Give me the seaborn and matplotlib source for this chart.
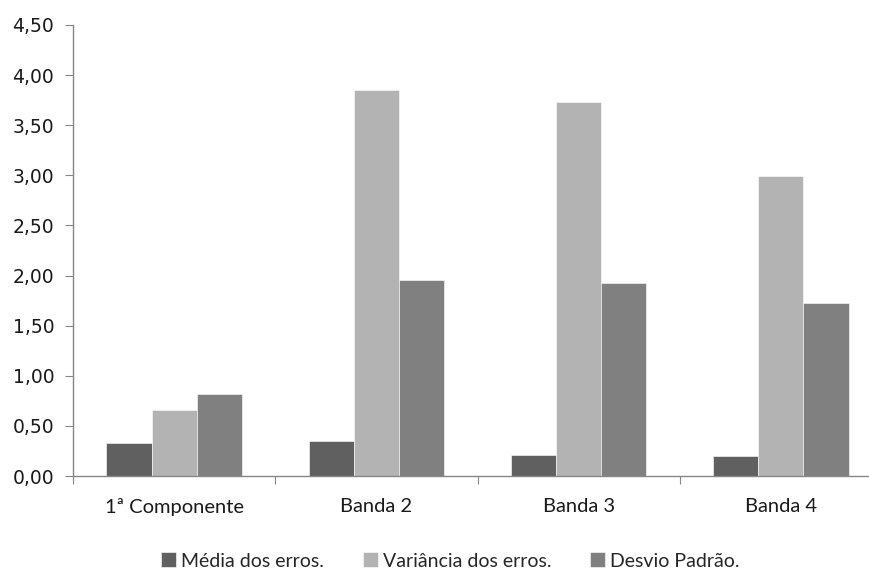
# Grouped bar chart: error statistics per component / band

import pandas as pd
import matplotlib.pyplot as plt
import seaborn as sns
from matplotlib.ticker import FuncFormatter, FixedLocator

# Data
categories = ["1ª Componente", "Banda 2", "Banda 3", "Banda 4"]
series = ["Média dos erros.", "Variância dos erros.", "Desvio Padrão."]
media = [0.33, 0.35, 0.21, 0.20]
variancia = [0.66, 3.85, 3.73, 2.99]
desvio = [0.82, 1.96, 1.93, 1.73]
yticks = [0, 0.5, 1.0, 1.5, 2.0, 2.5, 3.0, 3.5, 4.0, 4.5]

df = pd.DataFrame({
    "categoria": categories * 3,
    "serie": [series[0]] * 4 + [series[1]] * 4 + [series[2]] * 4,
    "valor": media + variancia + desvio,
})

sns.set_style("ticks")
palette = {series[0]: "#606060", series[1]: "#b3b3b3", series[2]: "#808080"}

fig = plt.figure(figsize=(8.69, 5.71), dpi=100)
# axes is a bit wider than the figure: the original image is cropped on the right
ax = fig.add_axes([73 / 869, 95 / 571, 809 / 869, 451 / 571])

sns.barplot(data=df, x="categoria", y="valor", hue="serie", palette=palette,
            width=0.67, edgecolor="white", linewidth=0.4, saturation=1, ax=ax)

ax.set_xlim(-0.5, 3.5)
ax.set_ylim(0, 4.5)
ax.yaxis.set_major_locator(FixedLocator(yticks))
ax.yaxis.set_major_formatter(FuncFormatter(lambda v, p: f"{v:.2f}".replace(".", ",")))
ax.set_xlabel("")
ax.set_ylabel("")

# x tick marks sit on category boundaries, labels in the middle
ax.set_xticks([-0.5, 0.5, 1.5, 2.5, 3.5])
ax.set_xticklabels([])
ax.set_xticks([0, 1, 2, 3], minor=True)
ax.set_xticklabels(categories, minor=True, fontsize=14.5, family="Lato", color="#1a1a1a")
ax.tick_params(axis="x", which="minor", length=0, pad=16)
ax.tick_params(axis="x", which="major", length=6, color="#868686")
ax.tick_params(axis="y", length=6, color="#868686", labelsize=13.5, labelcolor="#1a1a1a", pad=7.5)

sns.despine(ax=ax)
for side in ["left", "bottom"]:
    ax.spines[side].set_color("#868686")
    ax.spines[side].set_linewidth(1)

# legend below the plot
handles, labels = ax.get_legend_handles_labels()
ax.get_legend().remove()
fig.legend(handles, labels, loc="center", bbox_to_anchor=(0.518, 10 / 571), ncol=3,
           frameon=False, handlelength=0.77, handleheight=0.77, handletextpad=0.26,
           columnspacing=2.0, borderpad=0, prop={"family": "Lato", "size": 14})

fig.savefig("out.png", dpi=100)
